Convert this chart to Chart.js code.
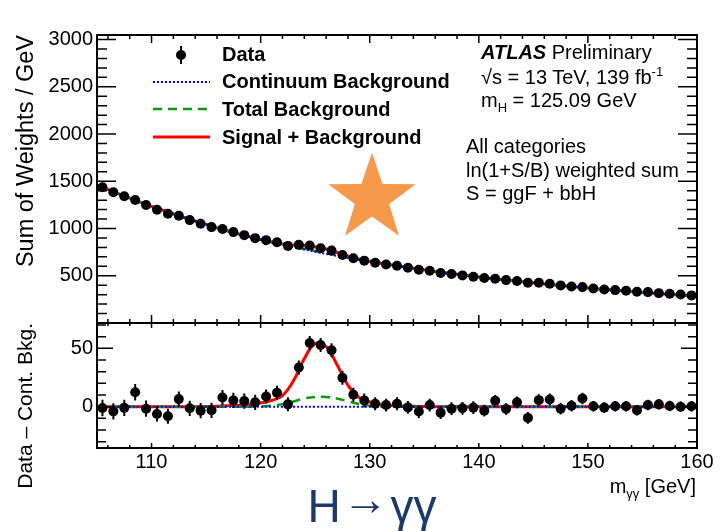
<!DOCTYPE html>
<html>
<head>
<meta charset="utf-8">
<script src="https://cdn.jsdelivr.net/npm/chart.js@4.4.0/dist/chart.umd.min.js"></script>
<style>
  html, body { margin: 0; padding: 0; background: #fff; }
  #wrap { position: relative; width: 720px; height: 531px; overflow: hidden; font-family: 'Liberation Sans', Arial, sans-serif; color: #000; }
  canvas { position: absolute; left: 0; top: 0; }
  .txt { position: absolute; font-size: 20px; line-height: 20px; white-space: nowrap; }
  .b { font-weight: bold; }
  .sub, .sup { position: relative; font-size: 13px; line-height: 0; }
  .sub { top: 5px; }
  .sup { top: -8px; }
</style>
</head>
<body>
<div id="wrap">
  <canvas id="mainChart" width="720" height="531"></canvas>
  <canvas id="ratioChart" width="720" height="531"></canvas>

  <div class="txt b" style="left:222px;top:44px">Data</div>
  <div class="txt b" style="left:222px;top:71px">Continuum Background</div>
  <div class="txt b" style="left:222px;top:99px">Total Background</div>
  <div class="txt b" style="left:222px;top:127px">Signal + Background</div>

  <div class="txt" style="left:481px;top:42px"><b><i>ATLAS</i></b> Preliminary</div>
  <div class="txt" style="left:481px;top:67px">√s = 13 TeV, 139 fb<span class="sup">-1</span></div>
  <div class="txt" style="left:481px;top:90px">m<span class="sub">H</span> = 125.09 GeV</div>
  <div class="txt" style="left:466px;top:136px">All categories</div>
  <div class="txt" style="left:466px;top:160px">ln(1+S/B) weighted sum</div>
  <div class="txt" style="left:466px;top:183px">S = ggF + bbH</div>

  <div class="txt" style="right:24px;top:476px">m<span class="sub">γγ</span> [GeV]</div>
  <div class="txt" style="left:0;width:744px;text-align:center;top:483px;font-size:46px;line-height:46px;color:#1b3a6b">H<span style="position:relative;top:-7px;margin:0 2px">→</span>γγ</div>
</div>

<script>
// data bins (1 GeV wide), centres
const massBins = [105.5, 106.5, 107.5, 108.5, 109.5, 110.5, 111.5, 112.5, 113.5, 114.5,
  115.5, 116.5, 117.5, 118.5, 119.5, 120.5, 121.5, 122.5, 123.5, 124.5,
  125.5, 126.5, 127.5, 128.5, 129.5, 130.5, 131.5, 132.5, 133.5, 134.5,
  135.5, 136.5, 137.5, 138.5, 139.5, 140.5, 141.5, 142.5, 143.5, 144.5,
  145.5, 146.5, 147.5, 148.5, 149.5, 150.5, 151.5, 152.5, 153.5, 154.5,
  155.5, 156.5, 157.5, 158.5, 159.5];
const dataWeights = [1436, 1383, 1341, 1302, 1249, 1199, 1157, 1135, 1089, 1050,
  1015, 994, 962, 930, 898, 877, 855, 816, 827, 819,
  792, 766, 720, 685, 660, 638, 620, 605, 584, 564,
  553, 529, 518, 504, 489, 476, 468, 454, 444, 426,
  426, 415, 398, 387, 380, 366, 355, 348, 341, 330,
  327, 316, 309, 302, 292];
const dataResidual = [-1.1, -4, -1, 12.4, -1.7, -6.2, -8.2, 6.5, -1.4, -3.4,
  -3.1, 7.9, 5.4, 4.8, 3.7, 8.8, 11.9, 2, 33.6, 54.5,
  52.8, 48.3, 24.8, 10.2, 5.4, 2.5, 1.4, 2.5, -0.6, -4.2,
  1.4, -5.1, -1.7, -1.4, -0.8, -3.4, 5.1, -2, 3.7, -9.6,
  5.6, 6.2, -1.7, 0.8, 7, 0.3, -0.8, 0.3, 0.3, -3.1,
  1.4, 2, 0.6, 0, 0.3];
const dataErr = [7, 7, 7, 7, 7, 6.5, 6.5, 6.5, 6.5, 6.5,
  6.5, 6.5, 6.5, 6.5, 6.5, 6, 6, 6, 6, 6,
  6, 6, 6, 6, 6, 5.5, 5.5, 5.5, 5.5, 5.5,
  5.5, 5.5, 5.5, 5.5, 5.5, 5, 5, 5, 5, 5,
  5, 5, 5, 5, 5, 4.5, 4.5, 4.5, 4.5, 4.5,
  4.5, 4.5, 4.5, 4.5, 4.5];

// fitted curves, sampled at integer masses
const curveMass = [105, 106, 107, 108, 109, 110, 111, 112, 113, 114,
  115, 116, 117, 118, 119, 120, 121, 122, 123, 124,
  125, 126, 127, 128, 129, 130, 131, 132, 133, 134,
  135, 136, 137, 138, 139, 140, 141, 142, 143, 144,
  145, 146, 147, 148, 149, 150, 151, 152, 153, 154,
  155, 156, 157, 158, 159, 160];
const contBkg = [1462, 1413, 1366, 1321, 1277, 1235, 1195, 1155, 1117, 1079,
  1043, 1007, 973, 941, 910, 881, 853, 827, 802, 778,
  754, 732, 710, 690, 670, 650, 631, 613, 595, 578,
  562, 546, 530, 516, 502, 488, 474, 461, 449, 437,
  425, 413, 402, 391, 381, 371, 361, 351, 342, 333,
  324, 316, 308, 300, 292, 285];
// total background minus continuum
const totalBkgExtra = [0, 0, 0, 0, 0, 0, 0, 0, 0, 0,
  0, 0, 0, 0, 0, 0.2, 0.8, 2.2, 4.5, 7.0,
  8.4, 8.4, 7.0, 4.6, 2.3, 0.9, 0.3, 0, 0, 0,
  0, 0, 0, 0, 0, 0, 0, 0, 0, 0,
  0, 0, 0, 0, 0, 0, 0, 0, 0, 0,
  0, 0, 0, 0, 0, 0];
// signal + background minus continuum
const sigBkgExtra = [0, 0, 0, 0, 0, 0, 0, 0, 0, 0,
  0.2, 0.4, 0.8, 1.3, 2.1, 3.3, 5.3, 9.5, 22, 41,
  54, 51.5, 36, 18.5, 8, 4, 2.1, 1.1, 0.6, 0.3,
  0.1, 0, 0, 0, 0, 0, 0, 0, 0, 0,
  0, 0, 0, 0, 0, 0, 0, 0, 0, 0,
  0, 0, 0, 0, 0, 0];

const mainTicksY = [500, 1000, 1500, 2000, 2500, 3000];
const ratioTicksY = [0, 50];
const ticksX = [110, 120, 130, 140, 150, 160];

const BLUE = '#0000ff', GREEN = '#0a9a0a', RED = '#ff0000';

Chart.defaults.font.family = "'Liberation Sans', Arial, sans-serif";
Chart.defaults.font.size = 20;
Chart.defaults.color = '#000';

const pts = (xs, ys) => xs.map((x, i) => ({x: x, y: ys[i]}));

// frame + ROOT style ticks pointing inwards
const framePlugin = {
    id: 'frame',
    afterDraw(chart, args, o) {
        const {ctx, chartArea: a, scales: {x, y}} = chart;
        ctx.save();
        ctx.strokeStyle = '#000';
        ctx.lineWidth = 1.5;
        ctx.beginPath();
        for (let v = Math.ceil(x.min / o.xStep) * o.xStep; v <= x.max; v += o.xStep) {
            const px = x.getPixelForValue(v);
            const len = v % o.xMajor === 0 ? o.xLong : o.xShort;
            ctx.moveTo(px, a.bottom); ctx.lineTo(px, a.bottom - len);
            ctx.moveTo(px, a.top); ctx.lineTo(px, a.top + len);
        }
        for (let v = Math.ceil(y.min / o.yStep) * o.yStep; v <= y.max; v += o.yStep) {
            const py = y.getPixelForValue(v);
            const len = v % o.yMajor === 0 ? o.yLong : o.yShort;
            ctx.moveTo(a.left, py); ctx.lineTo(a.left + len, py);
            ctx.moveTo(a.right, py); ctx.lineTo(a.right - len, py);
        }
        ctx.stroke();
        ctx.lineWidth = 2;
        ctx.strokeRect(a.left, a.top, a.right - a.left, a.bottom - a.top);
        ctx.restore();
    }
};

const errorBarPlugin = {
    id: 'errorBars',
    afterDatasetsDraw(chart, args, o) {
        const {ctx, scales: {x, y}} = chart;
        ctx.save();
        ctx.strokeStyle = '#000';
        ctx.lineWidth = 2;
        ctx.beginPath();
        o.values.forEach((v, i) => {
            const px = x.getPixelForValue(o.mass[i]);
            ctx.moveTo(px, y.getPixelForValue(v - o.errors[i]));
            ctx.lineTo(px, y.getPixelForValue(v + o.errors[i]));
        });
        ctx.stroke();
        ctx.restore();
    }
};

// legend symbols and the star
const decorPlugin = {
    id: 'decor',
    afterDraw(chart) {
        const ctx = chart.ctx;
        ctx.save();
        ctx.fillStyle = '#000';
        ctx.strokeStyle = '#000';
        ctx.lineWidth = 2;
        ctx.beginPath(); ctx.moveTo(181, 46); ctx.lineTo(181, 64); ctx.stroke();
        ctx.beginPath(); ctx.arc(181, 55, 5, 0, Math.PI * 2); ctx.fill();

        const sample = (yy, color, dash, w) => {
            ctx.strokeStyle = color; ctx.lineWidth = w; ctx.setLineDash(dash);
            ctx.beginPath(); ctx.moveTo(153, yy); ctx.lineTo(210, yy); ctx.stroke();
        };
        sample(82, BLUE, [2, 2], 2);
        sample(109, GREEN, [9, 6], 2.5);
        sample(137, RED, [], 3);
        ctx.setLineDash([]);

        // orange star
        const cx = 372, cy = 198.5, R = 46, r = 18;
        ctx.fillStyle = 'rgb(247,153,75)';
        ctx.beginPath();
        for (let k = 0; k < 10; k++) {
            const ang = -Math.PI / 2 + k * Math.PI / 5;
            const rad = k % 2 === 0 ? R : r;
            const px = cx + rad * Math.cos(ang), py = cy + rad * Math.sin(ang);
            if (k === 0) ctx.moveTo(px, py); else ctx.lineTo(px, py);
        }
        ctx.closePath();
        ctx.fill();
        ctx.restore();
    }
};

function lineSet(xs, ys, color, dash, width, order) {
    return {data: pts(xs, ys), borderColor: color, borderDash: dash, borderWidth: width,
        pointRadius: 0, tension: 0.4, fill: false, order: order};
}
function pointSet(xs, ys) {
    return {data: pts(xs, ys), showLine: false, pointRadius: 5, pointHoverRadius: 5,
        pointBackgroundColor: '#000', pointBorderWidth: 0, order: 0};
}
function yAxis(min, max, ticks, title, titleSize, titlePad) {
    return {
        type: 'linear', min: min, max: max,
        afterFit: s => { s.width = 97; },
        afterBuildTicks: s => { s.ticks = ticks.map(v => ({value: v})); },
        ticks: {callback: v => String(v), padding: 4, color: '#000', font: {size: 20}},
        grid: {drawOnChartArea: false, drawTicks: false},
        border: {display: false},
        title: {display: true, text: title, align: 'end', color: '#000', font: {size: titleSize},
            padding: {top: titlePad, bottom: 0}}
    };
}

const totalBkg = contBkg.map((b, i) => b + totalBkgExtra[i]);
const sigBkg = contBkg.map((b, i) => b + sigBkgExtra[i]);

new Chart(document.getElementById('mainChart'), {
    type: 'line',
    data: {datasets: [
        pointSet(massBins, dataWeights),
        lineSet(curveMass, contBkg, BLUE, [2, 2], 2, 1),
        lineSet(curveMass, totalBkg, GREEN, [9, 6], 2.5, 2),
        lineSet(curveMass, sigBkg, RED, [], 3, 3)
    ]},
    options: {
        responsive: false, animation: false, devicePixelRatio: 1,
        layout: {padding: {left: 0, top: 35, right: 23, bottom: 208}},
        scales: {
            x: {type: 'linear', min: 105, max: 160, display: false},
            y: yAxis(0, 3048, mainTicksY, 'Sum of Weights / GeV', 23.5, 12)
        },
        plugins: {
            legend: {display: false}, tooltip: {enabled: false},
            frame: {xStep: 2, xMajor: 10, xLong: 8, xShort: 4, yStep: 100, yMajor: 500, yLong: 19, yShort: 10},
            errorBars: {mass: massBins, values: dataWeights, errors: dataErr}
        }
    },
    plugins: [framePlugin, errorBarPlugin, decorPlugin]
});

new Chart(document.getElementById('ratioChart'), {
    type: 'line',
    data: {datasets: [
        pointSet(massBins, dataResidual),
        lineSet(curveMass, curveMass.map(() => 0), BLUE, [2, 2], 2, 1),
        lineSet(curveMass, totalBkgExtra, GREEN, [9, 6], 2.5, 2),
        lineSet(curveMass, sigBkgExtra, RED, [], 3, 3)
    ]},
    options: {
        responsive: false, animation: false, devicePixelRatio: 1,
        layout: {padding: {left: 0, top: 323, right: 23, bottom: 0}},
        scales: {
            x: {
                type: 'linear', min: 105, max: 160,
                afterFit: s => { s.height = 83; },
                afterBuildTicks: s => { s.ticks = ticksX.map(v => ({value: v})); },
                ticks: {callback: v => String(v), padding: 2, autoSkip: false, maxRotation: 0, color: '#000', font: {size: 20}},
                grid: {drawOnChartArea: false, drawTicks: false},
                border: {display: false}
            },
            y: yAxis(-35.4, 71.7, ratioTicksY, 'Data – Cont. Bkg.', 21, 13.5)
        },
        plugins: {
            legend: {display: false}, tooltip: {enabled: false},
            frame: {xStep: 2, xMajor: 10, xLong: 5, xShort: 3, yStep: 10, yMajor: 50, yLong: 16, yShort: 9},
            errorBars: {mass: massBins, values: dataResidual, errors: dataErr}
        }
    },
    plugins: [framePlugin, errorBarPlugin]
});
</script>
</body>
</html>
